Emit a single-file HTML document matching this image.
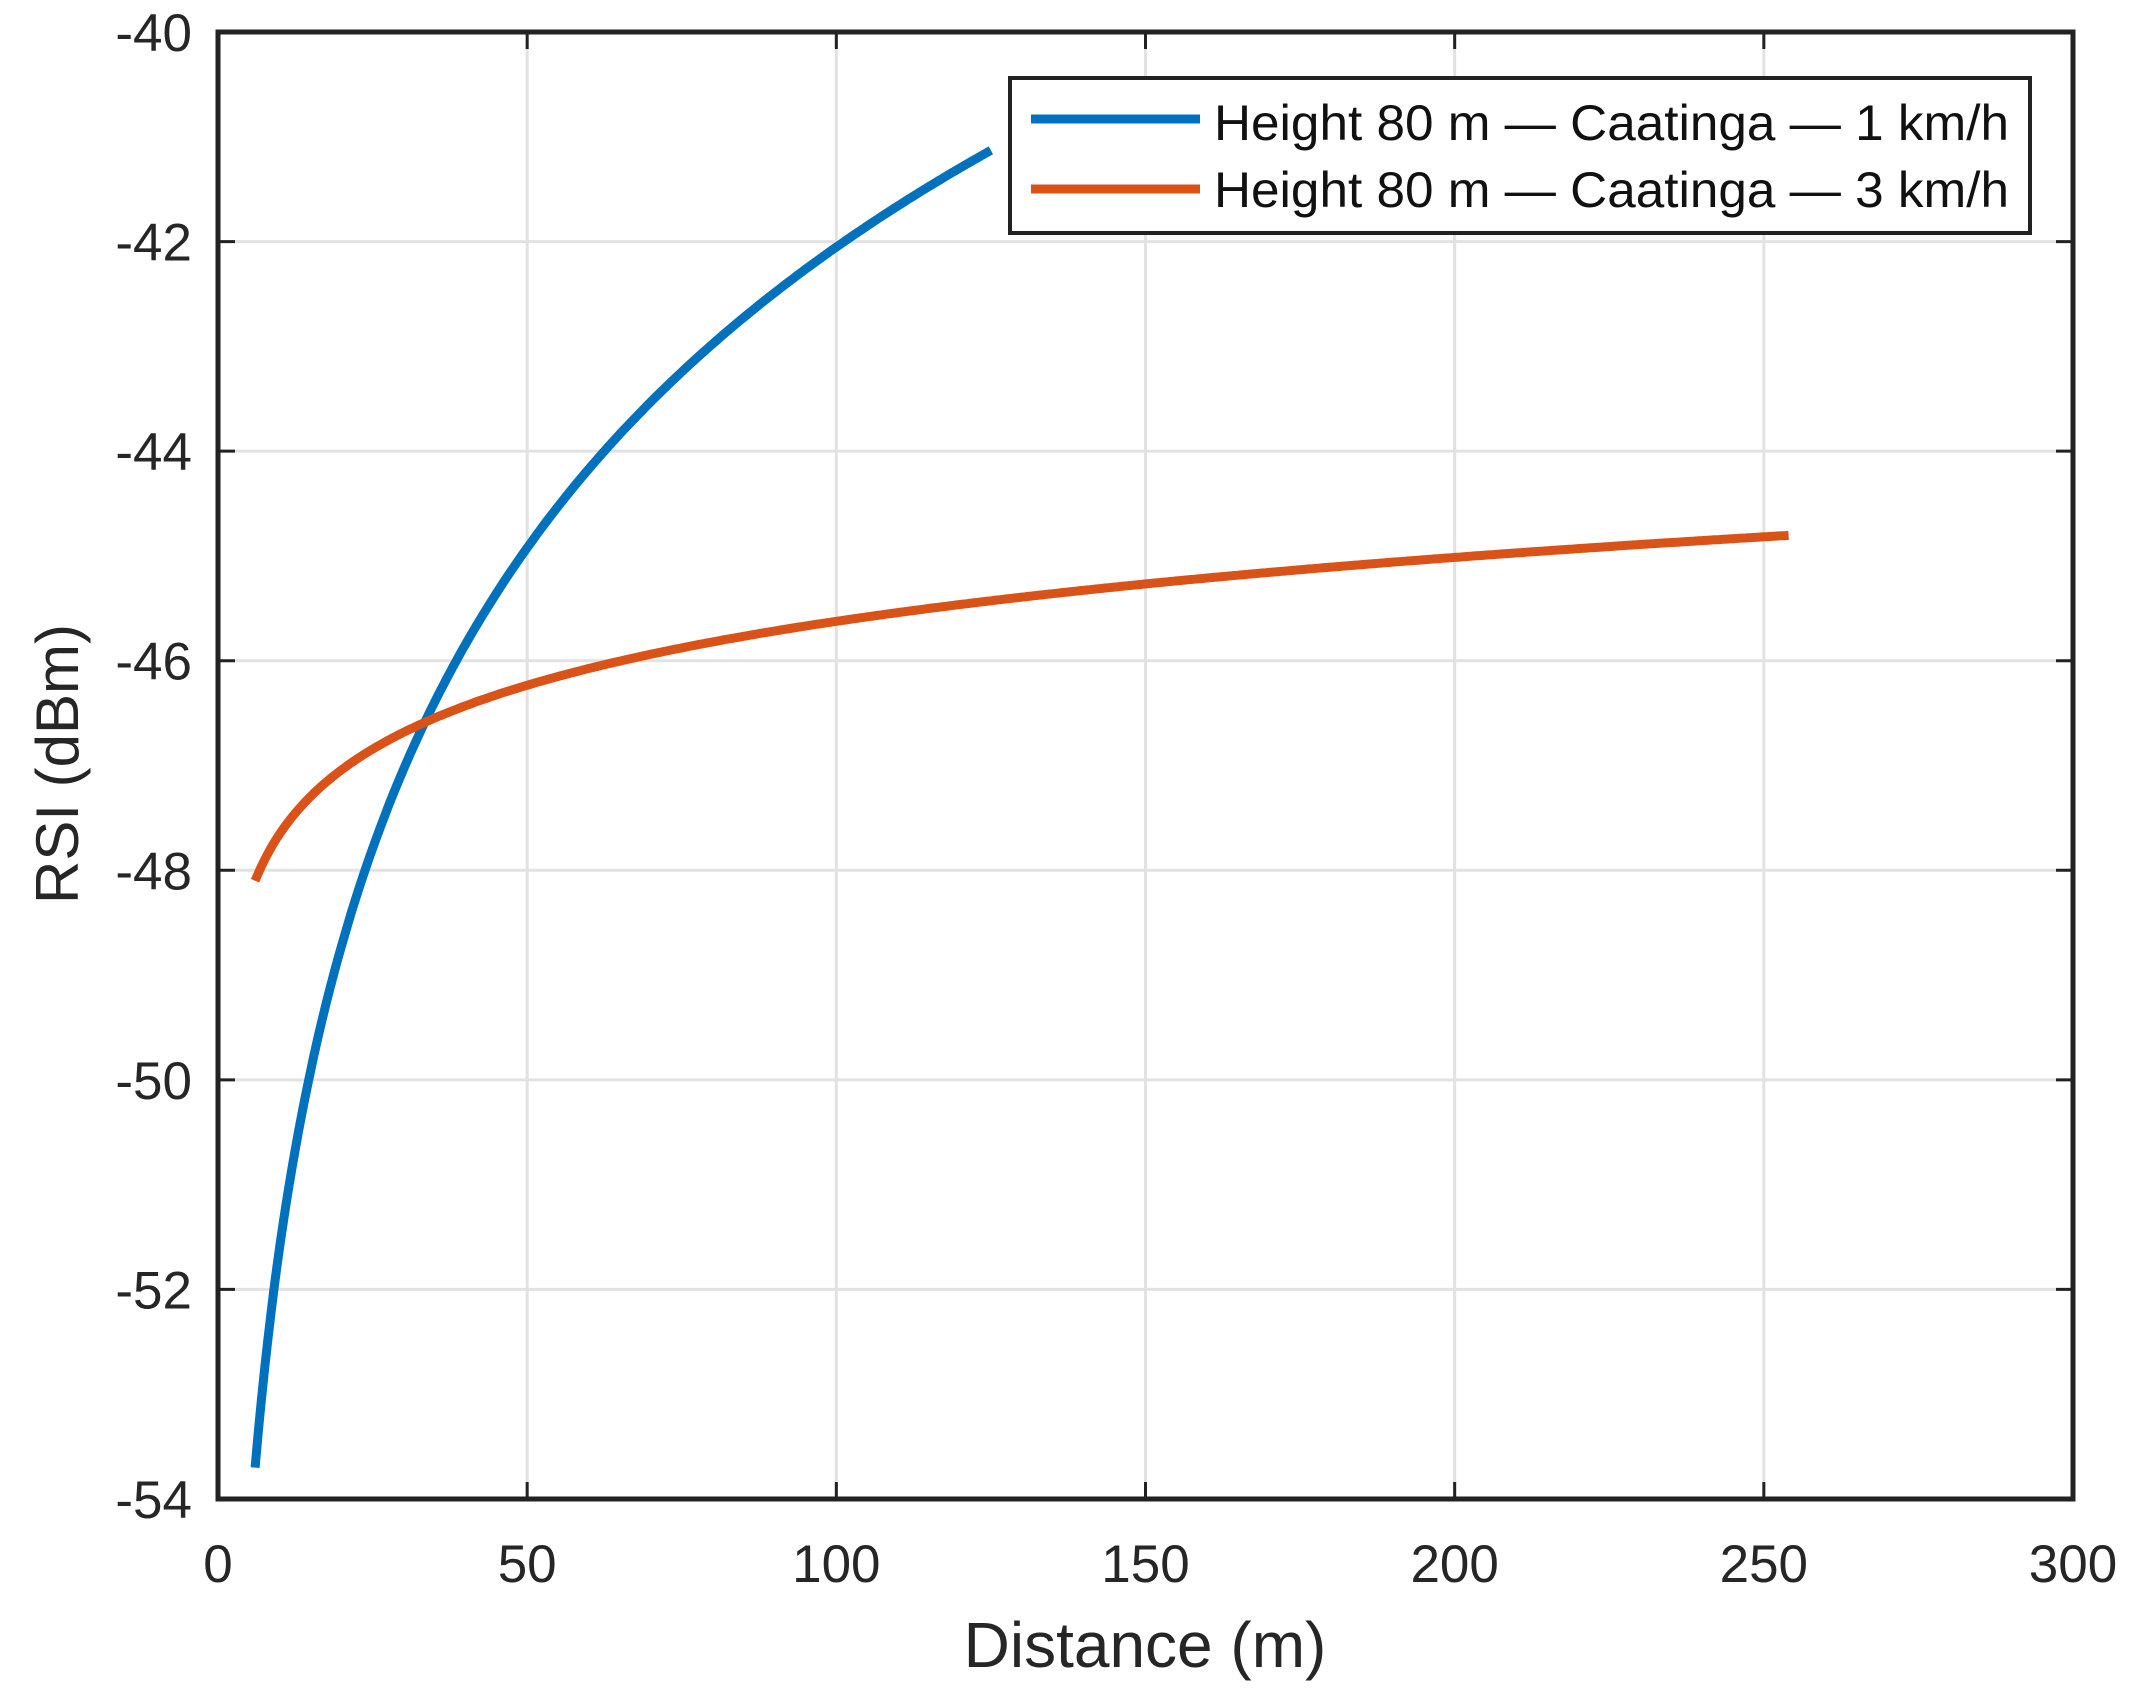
<!DOCTYPE html>
<html><head><meta charset="utf-8"><style>html,body{margin:0;padding:0;background:#fff}</style></head>
<body>
<svg id="s" width="2142" height="1697" xmlns="http://www.w3.org/2000/svg" font-family="Liberation Sans, sans-serif">
<rect width="2142" height="1697" fill="#fff"/>
<g id="grid" stroke="#e2e2e2" stroke-width="3"></g>
<g id="ticks" stroke="#222" stroke-width="3"></g>
<g id="lab" font-size="53" fill="#262626"></g>
<path id="b" fill="none" stroke="#0072BD" stroke-width="9" stroke-linecap="butt"/>
<path id="o" fill="none" stroke="#D95319" stroke-width="9" stroke-linecap="butt"/>
<rect x="218" y="32" width="1855" height="1467" fill="none" stroke="#222" stroke-width="5"/>
<rect x="1010" y="78" width="1020" height="155" fill="#fff" stroke="#222" stroke-width="4"/>
<line x1="1031" y1="119" x2="1200" y2="119" stroke="#0072BD" stroke-width="9"/>
<line x1="1031" y1="189" x2="1200" y2="189" stroke="#D95319" stroke-width="9"/>
<text x="1214" y="140" font-size="50" textLength="795" lengthAdjust="spacingAndGlyphs" fill="#111">Height 80 m — Caatinga — 1 km/h</text>
<text x="1214" y="207" font-size="50" textLength="795" lengthAdjust="spacingAndGlyphs" fill="#111">Height 80 m — Caatinga — 3 km/h</text>
<text x="1145" y="1667" font-size="64" text-anchor="middle" fill="#262626">Distance (m)</text>
<text transform="translate(78,764) rotate(-90)" font-size="60" text-anchor="middle" fill="#262626">RSI (dBm)</text>
</svg>
<script>
var X=function(v){return 218+v*(1855/300)},Y=function(v){return 32+(-40-v)*(1467/14)};
var g=document.getElementById('grid'),t=document.getElementById('ticks'),l=document.getElementById('lab'),NS='http://www.w3.org/2000/svg';
function el(p,n,a,txt){var e=document.createElementNS(NS,n);for(var k in a)e.setAttribute(k,a[k]);if(txt)e.textContent=txt;p.appendChild(e);}
for(var v=0;v<=300;v+=50){var x=X(v);if(v>0&&v<300)el(g,'line',{x1:x,y1:32,x2:x,y2:1499});el(t,'line',{x1:x,y1:1499,x2:x,y2:1482});el(t,'line',{x1:x,y1:32,x2:x,y2:49});el(l,'text',{x:x,y:1582,'text-anchor':'middle'},''+v);}
for(var v=-54;v<=-40;v+=2){var y=Y(v);if(v>-54&&v<-40)el(g,'line',{x1:218,y1:y,x2:2073,y2:y});el(t,'line',{x1:218,y1:y,x2:235,y2:y});el(t,'line',{x1:2073,y1:y,x2:2056,y2:y});el(l,'text',{x:192,y:y+19,'text-anchor':'end'},''+v);}
function path(a,b,x1,x2){var d='';for(var x=x1;x<=x2;x+=0.5){d+=(d?'L':'M')+X(x).toFixed(1)+','+Y(a+b*Math.log(x/6)).toFixed(1);}return d;}
document.getElementById('b').setAttribute('d',path(-53.7,4.14,6,125));
document.getElementById('o').setAttribute('d',path(-48.1,0.88,6,254));
</script>
</body></html>
